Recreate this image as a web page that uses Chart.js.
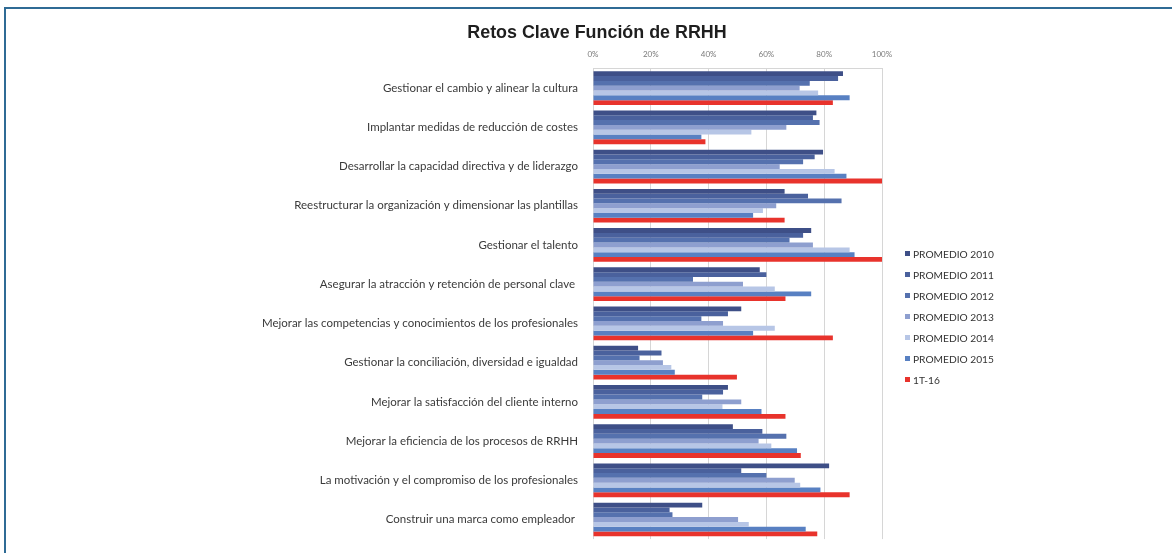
<!DOCTYPE html>
<html><head><meta charset="utf-8">
<script src="https://cdn.jsdelivr.net/npm/chart.js@4.4.0/dist/chart.umd.min.js"></script>
<style>
html,body{margin:0;padding:0;background:#fff;width:1176px;height:553px;overflow:hidden;}
#frame{position:absolute;left:4px;top:7px;width:1166px;height:560px;border-top:2px solid #2f6b95;border-left:2px solid #2f6b95;}
#wrap{position:absolute;left:0;top:0;width:1176px;height:553px;}
#title{position:absolute;top:22px;left:0;width:1194px;text-align:center;font:bold 17.9px "Liberation Sans",Arial,sans-serif;color:#1e1e1e;}
#legend{position:absolute;left:905px;top:243px;font:10.2px Lato,sans-serif;color:#333;}
.li{height:21px;display:flex;align-items:center;white-space:nowrap}
.sw{width:5px;height:5px;margin-right:3px}
</style>
</head><body>
<div id="frame"></div>
<div id="wrap"><canvas id="c" width="1176" height="553"></canvas></div>
<div id="title">Retos Clave Función de RRHH</div>
<div id="legend"></div>
<script>
const categories = [
  "Gestionar el cambio y alinear la cultura",
  "Implantar medidas de reducción de costes",
  "Desarrollar la capacidad directiva y de liderazgo",
  "Reestructurar la organización y dimensionar las plantillas",
  "Gestionar el talento",
  "Asegurar la atracción y retención de personal clave ",
  "Mejorar las competencias y conocimientos de los profesionales",
  "Gestionar la conciliación, diversidad e igualdad",
  "Mejorar la satisfacción del cliente interno",
  "Mejorar la eficiencia de los procesos de RRHH",
  "La motivación y el compromiso de los profesionales",
  "Construir una marca como empleador "
];
const seriesNames = ["PROMEDIO 2010","PROMEDIO 2011","PROMEDIO 2012","PROMEDIO 2013","PROMEDIO 2014","PROMEDIO 2015","1T-16"];
const p2010 = [86.5, 77.3, 79.6, 66.3, 75.5, 57.7, 51.3, 15.6, 46.7, 48.4, 81.7, 37.8];
const p2011 = [84.8, 76.1, 76.7, 74.4, 72.7, 60.0, 46.7, 23.7, 45.0, 58.6, 51.3, 26.5];
const p2012 = [75.0, 78.4, 72.7, 86.0, 68.0, 34.6, 37.5, 16.1, 37.8, 66.9, 60.0, 27.5];
const p2013 = [71.5, 66.9, 64.6, 63.4, 76.1, 51.9, 45.0, 24.2, 51.3, 57.3, 69.8, 50.2];
const p2014 = [77.9, 54.8, 83.6, 58.8, 88.8, 62.9, 62.9, 27.1, 44.8, 61.7, 71.7, 53.9];
const p2015 = [88.8, 37.5, 87.7, 55.4, 90.5, 75.5, 55.4, 28.3, 58.3, 70.6, 78.7, 73.6];
const t1_16 = [83.0, 38.9, 100, 66.3, 100, 66.6, 83.0, 49.8, 66.6, 71.9, 88.8, 77.6];
const xTicks = [0, 20, 40, 60, 80, 100];
const colors = ["#3e4f87","#4a619d","#5571ae","#8e9fcf","#b7c6e6","#5880c2","#e8332c"];

const allSeries = [p2010,p2011,p2012,p2013,p2014,p2015,t1_16];
const datasets = allSeries.map((d,i)=>({label:seriesNames[i],data:d,backgroundColor:colors[i],borderWidth:0}));

new Chart(document.getElementById('c'),{
  type:'bar',
  data:{labels:categories,datasets:datasets},
  options:{
    responsive:false, animation:false, indexAxis:'y',
    layout:{padding:{left:0,right:294,top:43,bottom:7}},
    plugins:{legend:{display:false},title:{display:false},tooltip:{enabled:false}},
    datasets:{bar:{categoryPercentage:0.86,barPercentage:1.0}},
    scales:{
      x:{position:'top',min:0,max:100,
        afterBuildTicks:s=>{s.ticks=xTicks.map(v=>({value:v}));},
        ticks:{callback:v=>v+'%',font:{family:'Lato',size:8},color:'#7a7a7a',padding:9},
        grid:{color:'#d6d6d6',drawTicks:false},
        border:{color:'#d6d6d6'},
        afterFit:s=>{s.height=25.5;}
      },
      y:{ticks:{font:{family:'Lato',size:11.5},color:'#3a3a3a',padding:7,autoSkip:false},
        grid:{display:false},border:{display:false},
        afterFit:s=>{s.width=593;}
      }
    }
  }
});

const lg=document.getElementById('legend');
seriesNames.forEach((n,i)=>{
  const r=document.createElement('div');r.className='li';
  const sw=document.createElement('span');sw.className='sw';sw.style.background=colors[i];
  const t=document.createElement('span');t.textContent=n;
  r.appendChild(sw);r.appendChild(t);lg.appendChild(r);
});
</script>
</body></html>
